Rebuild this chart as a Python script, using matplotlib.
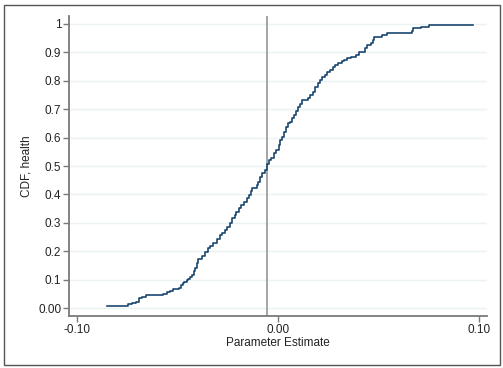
import matplotlib
matplotlib.use('Agg')
import matplotlib.pyplot as plt
from matplotlib.patches import Rectangle

# step breakpoints of the empirical CDF (parameter estimate, cumulative share)
est = [-0.0851, -0.0743, -0.0727, -0.0705, -0.0688, -0.0675, -0.0655, -0.0569,
       -0.0552, -0.0535, -0.0522, -0.0490, -0.0482, -0.0469, -0.0464, -0.0450,
       -0.0444, -0.0434, -0.0428, -0.0419, -0.0410, -0.0403, -0.0397, -0.0378,
       -0.0375, -0.0360, -0.0345, -0.0335, -0.0320, -0.0300, -0.0285, -0.0278,
       -0.0262, -0.0252, -0.0240, -0.0229, -0.0212, -0.0206, -0.0192, -0.0182,
       -0.0168, -0.0155, -0.0142, -0.0135, -0.0128, -0.0105, -0.0098, -0.0088,
       -0.0080, -0.0062, -0.0055, -0.0045, -0.0035, -0.0020, -0.0010, 0.0005,
       0.0012, 0.0020, 0.0030, 0.0040, 0.0050, 0.0060, 0.0070, 0.0080,
       0.0090, 0.0100, 0.0110, 0.0120, 0.0150, 0.0160, 0.0175, 0.0185,
       0.0200, 0.0210, 0.0220, 0.0235, 0.0245, 0.0260, 0.0275, 0.0285,
       0.0300, 0.0320, 0.0330, 0.0345, 0.0365, 0.0390, 0.0405, 0.0435,
       0.0445, 0.0465, 0.0475, 0.0480, 0.0520, 0.0545, 0.0665, 0.0670,
       0.0710, 0.0750, 0.0970]
cdf = [0.007, 0.013, 0.018, 0.022, 0.034, 0.040, 0.047, 0.050,
       0.055, 0.060, 0.066, 0.072, 0.081, 0.087, 0.093, 0.099,
       0.104, 0.111, 0.118, 0.130, 0.140, 0.157, 0.171, 0.178,
       0.184, 0.198, 0.210, 0.219, 0.228, 0.242, 0.256, 0.263,
       0.276, 0.286, 0.300, 0.316, 0.328, 0.339, 0.352, 0.362,
       0.374, 0.386, 0.399, 0.411, 0.421, 0.433, 0.445, 0.462,
       0.474, 0.485, 0.508, 0.520, 0.527, 0.545, 0.557, 0.574,
       0.590, 0.603, 0.620, 0.638, 0.650, 0.656, 0.668, 0.680,
       0.692, 0.709, 0.720, 0.732, 0.738, 0.750, 0.762, 0.779,
       0.791, 0.803, 0.815, 0.821, 0.832, 0.838, 0.850, 0.856,
       0.862, 0.868, 0.874, 0.879, 0.885, 0.891, 0.903, 0.915,
       0.926, 0.932, 0.944, 0.955, 0.961, 0.969, 0.975, 0.985,
       0.991, 0.997, 0.997]

ref_line = -0.0055
yticks = [0, 0.1, 0.2, 0.3, 0.4, 0.5, 0.6, 0.7, 0.8, 0.9, 1]
ylabels = ['0.00', '0.1', '0.2', '0.3', '0.4', '0.5', '0.6', '0.7', '0.8', '0.9', '1']
xticks = [-0.1, 0.0, 0.1]
xlabels = ['-0.10', '0.00', '0.10']

plt.rcParams['font.family'] = ['Liberation Sans', 'DejaVu Sans']

fig = plt.figure(figsize=(5.03, 3.68), dpi=100)
fig.patches.append(Rectangle((3.5/503, 3.5/368), 496/503, 360/368,
                             transform=fig.transFigure, fill=False,
                             edgecolor='#555555', linewidth=1.0))
ax = fig.add_axes([69/503, 52/368, 418/503, 300/368])

ax.set_xlim(-0.1038, 0.104)
ax.set_ylim(-0.028, 1.028)

for t in yticks:
    ax.axhline(t, color='#eaf2f3', linewidth=1.0, zorder=0)
ax.axvline(ref_line, color='#8c8c8c', linewidth=1.1, zorder=1)
ax.step(est, cdf, where='post', color='#1a476f', linewidth=1.2, zorder=2)

for s in ['top', 'right']:
    ax.spines[s].set_visible(False)
for s in ['left', 'bottom']:
    ax.spines[s].set_color('#7a7a7a')
    ax.spines[s].set_linewidth(1.3)

ax.set_yticks(yticks)
ax.set_yticklabels(ylabels)
ax.set_xticks(xticks)
ax.set_xticklabels(xlabels)
ax.tick_params(axis='both', length=4, width=1.0, color='#7a7a7a',
               labelsize=8.5, pad=1.5, labelcolor='#222222')

ax.set_ylabel('CDF, health', fontsize=8.5, color='#222222', labelpad=4)
ax.set_xlabel('Parameter Estimate', fontsize=8.5, color='#222222', labelpad=1)

fig.savefig('out.png', dpi=100)
